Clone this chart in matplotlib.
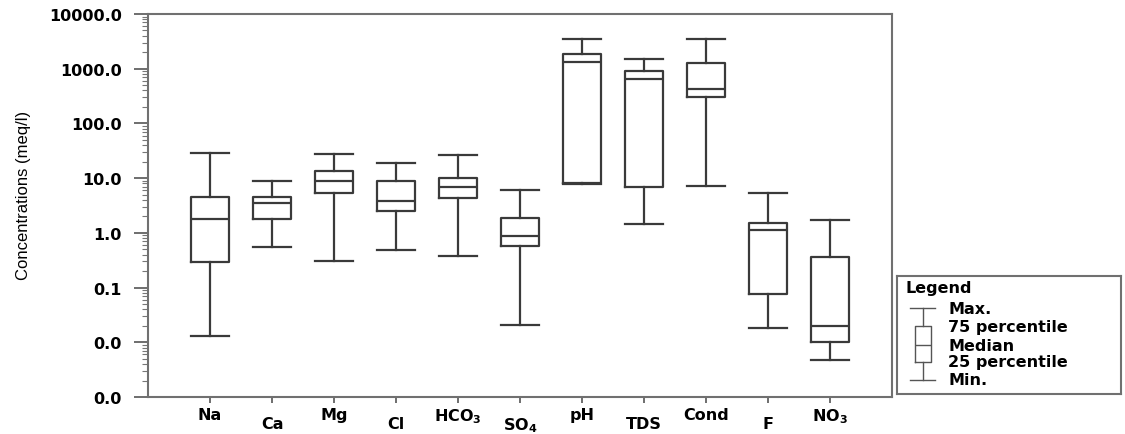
import matplotlib
matplotlib.use("Agg")
import matplotlib.pyplot as plt
from matplotlib.ticker import FormatStrFormatter, LogLocator, NullFormatter

# parameters on the x axis
params = ["Na", "Ca", "Mg", "Cl", r"HCO$_\mathbf{3}$", r"SO$_\mathbf{4}$",
          "pH", "TDS", "Cond", "F", r"NO$_\mathbf{3}$"]

# box statistics (meq/l)
v_min = [0.0128, 0.543, 0.305, 0.485, 0.377, 0.0209, 7.9, 1.45, 7.26, 0.0180, 0.00473]
v_q1 = [0.296, 1.79, 5.27, 2.47, 4.27, 0.574, 8.04, 6.79, 300, 0.0751, 0.00995]
v_med = [1.77, 3.51, 8.74, 3.81, 6.79, 0.874, 1310, 649, 425, 1.12, 0.0200]
v_q3 = [4.57, 4.57, 13.7, 8.96, 9.91, 1.87, 1880, 918, 1270, 1.49, 0.361]
v_max = [28.4, 8.74, 27.9, 18.9, 26.8, 6.14, 3490, 1500, 3490, 5.27, 1.69]

# legend key: schematic box (min, q1, median, q3, max) and its labels
key_stats = [0.119, 0.274, 0.415, 0.574, 0.726]
key_labels = ["Min.", "25 percentile", "Median", "75 percentile", "Max."]

LINE = "#3a3a3a"
BOLD = dict(family="DejaVu Sans", weight="bold", size=11.5)

fig = plt.figure(figsize=(11.25, 4.35), dpi=100)
ax = fig.add_axes([0.1316, 0.0851, 0.6613, 0.8804])

stats = []
for i in range(len(params)):
    stats.append(dict(whislo=v_min[i], q1=v_q1[i], med=v_med[i],
                      q3=v_q3[i], whishi=v_max[i], fliers=[]))

lp = dict(color=LINE, linewidth=1.6)
ax.bxp(stats, positions=range(1, len(params) + 1), widths=0.6,
       capwidths=0.6, showfliers=False,
       boxprops=lp, whiskerprops=lp, capprops=lp, medianprops=lp)

ax.set_yscale("log")
ax.set_ylim(0.001, 10000)
ax.set_xlim(0, 12)
ax.yaxis.set_major_locator(LogLocator(base=10, numticks=20))
ax.yaxis.set_minor_locator(LogLocator(base=10, subs=range(2, 10), numticks=100))
ax.yaxis.set_major_formatter(FormatStrFormatter("%.1f"))
ax.yaxis.set_minor_formatter(NullFormatter())
ax.tick_params(axis="y", which="major", direction="out", length=10, width=1.2,
               color="#555555", pad=9)
ax.tick_params(axis="y", which="minor", direction="out", length=4, width=0.8,
               color="#777777")
for lab in ax.get_yticklabels():
    lab.set_fontproperties(BOLD)
    lab.set_fontsize(BOLD["size"])

ax.set_xticks(range(1, len(params) + 1))
ax.set_xticklabels(params, fontdict=BOLD)
ax.tick_params(axis="x", direction="out", length=4, width=1.2, color="#555555")
for i, tick in enumerate(ax.xaxis.get_major_ticks()):
    tick.set_pad(3 if i % 2 == 0 else 9.5)

for sp in ax.spines.values():
    sp.set_color("#707070")
    sp.set_linewidth(1.5)

ax.set_ylabel("Concentrations (meq/l)", family=["Liberation Sans Narrow", "Liberation Sans"],
              size=12)
ax.yaxis.set_label_coords(-0.158, 0.53)

# legend panel
lg = fig.add_axes([0.7973, 0.092, 0.1991, 0.2712])
lg.set_xlim(0, 1)
lg.set_ylim(0, 1)
lg.set_xticks([])
lg.set_yticks([])
for sp in lg.spines.values():
    sp.set_color("#707070")
    sp.set_linewidth(1.5)
key = dict(whislo=key_stats[0], q1=key_stats[1], med=key_stats[2],
           q3=key_stats[3], whishi=key_stats[4], fliers=[])
kp = dict(color="#555555", linewidth=1.0)
lg.bxp([key], positions=[0.115], widths=0.071, capwidths=0.11, showfliers=False,
       boxprops=kp, whiskerprops=kp, capprops=kp, medianprops=kp, manage_ticks=False)
lg.text(0.036, 0.905, "Legend", va="center", ha="left", **BOLD)
for yv, txt in zip(key_stats, key_labels):
    lg.text(0.228, yv, txt, va="center", ha="left", **BOLD)

fig.savefig("out.png", dpi=100)
